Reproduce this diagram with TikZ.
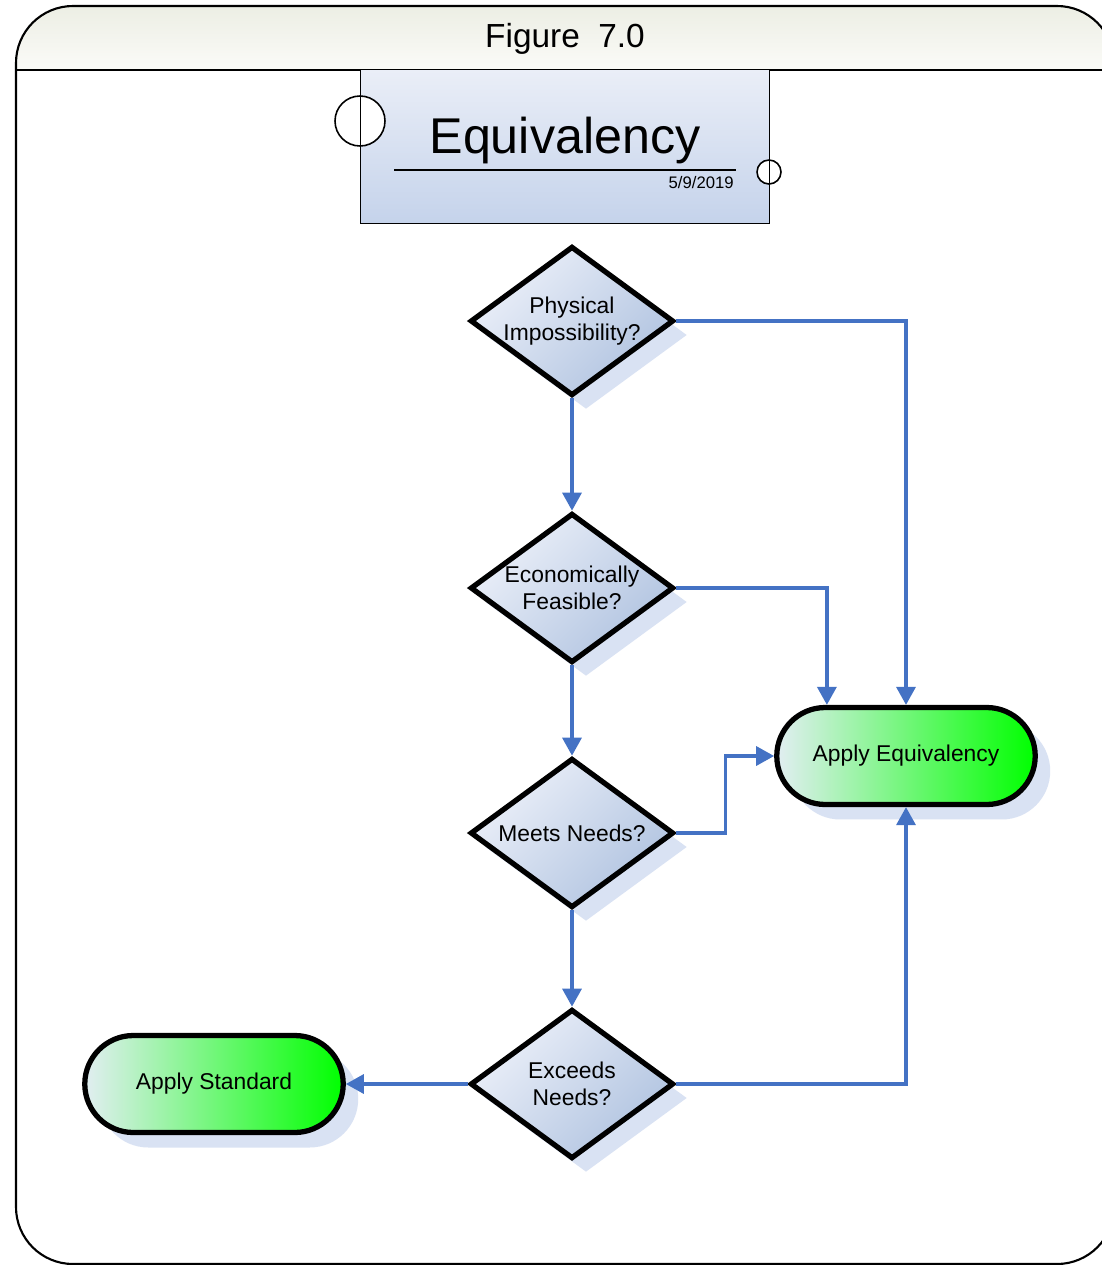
\documentclass[tikz,border=0pt]{standalone}
\usepackage{fontspec}
\setmainfont{Liberation Sans}
\usetikzlibrary{arrows.meta,shapes.geometric,shadows,calc}
\definecolor{conn}{RGB}{68,114,196}
\definecolor{shadowc}{RGB}{217,226,243}
\definecolor{dtop}{RGB}{236,240,249}
\definecolor{dbot}{RGB}{176,195,224}
\definecolor{ttop}{RGB}{234,238,247}
\definecolor{tbot}{RGB}{197,211,235}
\definecolor{hdrtop}{RGB}{236,238,228}
\definecolor{hdrbot}{RGB}{251,251,248}
\definecolor{gwhite}{RGB}{226,238,242}
\definecolor{gmid}{RGB}{120,245,120}
\definecolor{gfull}{RGB}{0,255,0}
\begin{document}
\begin{tikzpicture}[x=0.02cm,y=-0.02cm,
  decision/.style={diamond, aspect=1.36, draw=black, line width=3pt, minimum width=4.07cm, minimum height=2.99cm,
    inner sep=0pt, align=center, font=\fontsize{13}{15.5}\selectfont,
    top color=dtop, bottom color=dbot, shading angle=45,
    drop shadow={shadow xshift=0.28cm, shadow yshift=-0.28cm, fill=shadowc, opacity=1, draw=none}},
  terminal/.style={rectangle, rounded corners=0.97cm, draw=black, line width=3pt,
    minimum width=5.17cm, minimum height=1.94cm, inner sep=0pt, font=\fontsize{13}{15.5}\selectfont,
    left color=gwhite, middle color=gmid, right color=gfull,
    drop shadow={shadow xshift=0.3cm, shadow yshift=-0.3cm, fill=shadowc, opacity=1, draw=none}},
  conn/.style={draw=conn, line width=1.9pt, -{Triangle[length=0.36cm,width=0.38cm]}},
  plain/.style={inner sep=0pt}
]
\fill[white] (0,0) rectangle (1102,1265);
\clip (0,0) rectangle (1102,1265);
% frame and header
\begin{scope}
  \clip[rounded corners=1.14cm] (16,6) rectangle (1114,1264);
  \shade[top color=hdrtop, bottom color=hdrbot] (16,6) rectangle (1114,70);
\end{scope}
\draw[line width=1.2pt, rounded corners=1.14cm] (16,6) rectangle (1114,1264);
\draw[line width=1.3pt] (16,70) -- (1114,70);
\node[plain, font=\fontsize{19}{22}\selectfont] (hdr) at (565,39) {Figure\ \ 7.0};
% title block
\node[rectangle, minimum width=8.16cm, minimum height=3.06cm, top color=ttop, bottom color=tbot, inner sep=0pt] (tb) at (565,146.5) {};
\node[circle, draw=black, line width=0.9pt, fill=white, minimum size=1.0cm, inner sep=0pt] (c1) at (360,121) {};
\node[circle, draw=black, line width=0.9pt, fill=white, minimum size=0.48cm, inner sep=0pt] (c2) at (769,172) {};
\draw[line width=0.9pt] (tb.north west) rectangle (tb.south east);
\node[plain, font=\fontsize{28.6}{32}\selectfont] (tt) at (565,141) {Equivalency};
\coordinate (ul1) at (394,170);
\coordinate (ul2) at (736,170);
\draw[line width=1.1pt] (ul1) -- (ul2);
\node[plain, anchor=east, font=\fontsize{9.5}{11}\selectfont] (dt) at (734,183) {5/9/2019};
% decisions
\node[decision] (d1) at (572,321) {Physical\\Impossibility?};
\node[decision] (d2) at (572,588) {Economically\\Feasible?};
\node[decision] (d3) at (572,833) {Meets Needs?};
\node[decision] (d4) at (572,1084) {Exceeds\\Needs?};
% terminals
\node[terminal] (ae) at (906,756) {Apply Equivalency};
\node[terminal] (as) at (214,1084) {Apply Standard};
% connectors
\draw[conn] (d1.south) -- (d2.north);
\draw[conn] (d2.south) -- (d3.north);
\draw[conn] (d3.south) -- (d4.north);
\draw[conn] (d1.east) -| (ae.north);
\draw[conn] (d2.east) -| ($(ae.north west)!0.2!(ae.north east)$);
\draw[conn] (d3.east) -- ++(49,0) |- (ae.west);
\draw[conn] (d4.east) -| (ae.south);
\draw[conn] (d4.west) -- (as.east);
\end{tikzpicture}
\end{document}
